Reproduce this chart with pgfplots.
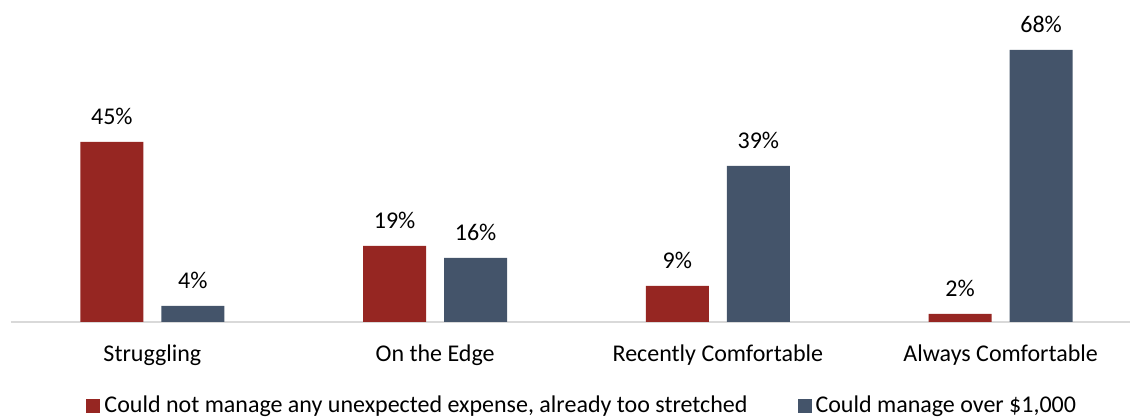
\documentclass[border=0pt]{standalone}
\usepackage{pgfplots}
\pgfplotsset{compat=1.18}
\usepackage{fontspec}
\setmainfont{Carlito}
\definecolor{redbar}{HTML}{962622}
\definecolor{bluebar}{HTML}{44546A}
\definecolor{axgray}{HTML}{D9D9D9}
\begin{document}
\begin{tikzpicture}
\begin{axis}[
    at={(5.5pt,47.5pt)}, anchor=south west,
    scale only axis,
    width=565.5pt, height=160pt,
    ybar=9pt, bar width=31.5pt,
    xmin=-0.5, xmax=3.5, ymin=0, ymax=80,
    axis x line=bottom, axis y line=none,
    x axis line style={-, draw=axgray, line width=1pt},
    xtick=data,
    xticklabels={Struggling, On the Edge, Recently Comfortable, Always Comfortable},
    major tick length=0pt,
    xticklabel style={font=\fontsize{12}{14}\selectfont, yshift=-8pt},
    /pgf/number format/assume math mode=true,
    nodes near coords={\pgfmathprintnumber{\pgfplotspointmeta}\%},
    every node near coord/.append style={font=\fontsize{12}{14}\selectfont, yshift=5pt, black},
    legend style={at={(axis description cs:0.506,-0.2625)}, anchor=center, draw=none,
        font=\fontsize{12}{14}\selectfont, legend columns=2,
        /tikz/every even column/.append style={column sep=23pt}},
    legend image code/.code={\fill[#1] (0pt,-3.5pt) rectangle (7pt,3.5pt);},
]
\addplot[fill=redbar, draw=none] coordinates {(0,45) (1,19) (2,9) (3,2)};
\addplot[fill=bluebar, draw=none] coordinates {(0,4) (1,16) (2,39) (3,68)};
\legend{{Could not manage any unexpected expense, already too stretched}, {Could manage over \$1,000}}
\end{axis}
\pgfresetboundingbox
\useasboundingbox (0,0) rectangle (565pt,208.5pt);
\end{tikzpicture}
\end{document}
